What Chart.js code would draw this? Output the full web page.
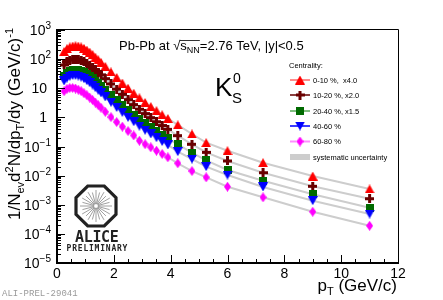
<!DOCTYPE html>
<html><head><meta charset="utf-8">
<script src="https://cdn.jsdelivr.net/npm/chart.js@4/dist/chart.umd.min.js"></script>
<style>html,body{margin:0;padding:0;background:#fff}#wrap{width:443px;height:300px;position:relative}</style>
</head><body><div id="wrap"><canvas id="c" width="443" height="300"></canvas></div>
<script>
const pT = [0.25,0.35,0.45,0.55,0.65,0.75,0.85,0.95,1.05,1.15,1.25,1.35,1.45,1.55,1.7,1.9,2.1,2.3,2.5,2.7,2.9,3.1,3.3,3.5,3.7,3.9,4.25,4.75,5.25,6,7.25,9,11];
const c0010x4 = [182,229,263,282,288,282,263,234,204,174,145,117,95.5,77.6,56.2,36.3,23.4,15.1,10.0,6.76,4.68,3.24,2.34,1.70,1.23,0.912,0.550,0.269,0.135,0.0718,0.0278,0.0097,0.00348];
const c1020x2 = [63.1,81.3,93.3,100,100,97.7,91.2,81.3,70.8,60.3,51.3,42.7,34.7,28.8,21.4,14.1,9.33,6.17,4.07,2.75,1.91,1.35,0.977,0.708,0.525,0.389,0.236,0.119,0.0631,0.0318,0.0126,0.0043,0.00161];
const c2040x15 = [26.3,33.9,39.8,42.7,43.7,42.7,39.8,35.5,30.9,26.3,21.9,18.2,14.8,12.0,8.91,5.89,3.89,2.63,1.78,1.23,0.871,0.631,0.457,0.339,0.251,0.191,0.119,0.0614,0.0335,0.0156,0.0067,0.00228,0.00079];
const c4060 = [17.8,22.4,25.7,27.5,27.5,26.3,24.0,21.4,18.2,15.5,12.9,10.5,8.51,6.92,5.01,3.31,2.19,1.48,1.00,0.708,0.501,0.363,0.269,0.200,0.148,0.113,0.0664,0.0372,0.0203,0.0105,0.00407,0.00138,0.00048];
const c6080 = [7.94,9.55,10.2,10.2,9.77,8.91,7.94,6.76,5.75,4.79,3.98,3.24,2.63,2.14,1.55,1.02,0.692,0.479,0.339,0.240,0.158,0.120,0.094,0.0718,0.0553,0.0427,0.0265,0.0144,0.00875,0.00417,0.0018,0.000575,0.00019];
const seriesLabels = ['0-10 %,  x4.0','10-20 %, x2.0','20-40 %, x1.5','40-60 %','60-80 %'];
const xTickValues = [0,2,4,6,8,10,12];
const yTickExponents = [-5,-4,-3,-2,-1,0,1,2,3];

function mk(w,h,fn){const c=document.createElement('canvas');c.width=w;c.height=h;const g=c.getContext('2d');fn(g,w,h);return c;}
const mRed = mk(10,9,(g,w,h)=>{g.fillStyle='#ff0000';g.beginPath();g.moveTo(w/2,0);g.lineTo(w,h);g.lineTo(0,h);g.closePath();g.fill();});
const mBrown = mk(9,9,(g)=>{g.fillStyle='#6a0000';g.fillRect(3,0,3,9);g.fillRect(0,3,9,3);});
const mGreen = mk(8,8,(g)=>{g.fillStyle='#006a00';g.fillRect(0,0,8,8);});
const mBlue = mk(10,9,(g,w,h)=>{g.fillStyle='#0000ff';g.beginPath();g.moveTo(0,0);g.lineTo(w,0);g.lineTo(w/2,h);g.closePath();g.fill();});
const mMag = mk(7,10,(g,w,h)=>{g.fillStyle='#ff00ff';g.beginPath();g.moveTo(w/2,0);g.lineTo(w,h/2);g.lineTo(w/2,h);g.lineTo(0,h/2);g.closePath();g.fill();});

const series = [
  {vals:c0010x4, marker:mRed, line:'#ff8c8c'},
  {vals:c1020x2, marker:mBrown, line:'#8a4040'},
  {vals:c2040x15, marker:mGreen, line:'#80bf80'},
  {vals:c4060, marker:mBlue, line:'#3c3cff'},
  {vals:c6080, marker:mMag, line:'#ff8cff'}
];
const toPts = v => pT.map((x,i)=>({x:x,y:v[i]}));
const datasets = [];
series.forEach((s,i)=>{
  datasets.push({label:'sys'+i, data:toPts(s.vals), showLine:true, borderColor:'#cdcdcd', borderWidth:2, pointRadius:0, order:20, tension:0});
});
series.forEach((s,i)=>{
  datasets.push({label:seriesLabels[i], data:toPts(s.vals), showLine:false, pointStyle:s.marker, pointRadius:5, order:10-i});
});

function rich(ctx, segs, x, y, align){
  let w=0; for(const s of segs){ctx.font=s.f; w+=ctx.measureText(s.t).width;}
  let cx = align==='right'? x-w : (align==='center'? x-w/2 : x);
  const pos=[];
  for(const s of segs){ctx.font=s.f; ctx.fillText(s.t, cx, y+(s.dy||0)); const ww=ctx.measureText(s.t).width; pos.push([cx,ww]); cx+=ww;}
  return pos;
}
const F = "'Liberation Sans', Arial, sans-serif";

const deco = {
  id:'deco',
  afterDraw(chart){
    const ctx=chart.ctx, xs=chart.scales.x, ys=chart.scales.y, a=chart.chartArea;
    ctx.save();
    ctx.fillStyle='#000'; ctx.strokeStyle='#000';
    // frame
    ctx.lineWidth=1;
    ctx.beginPath(); ctx.moveTo(a.left, a.top-0.5); ctx.lineTo(a.right+0.5, a.top-0.5); ctx.lineTo(a.right+0.5, a.bottom); ctx.stroke();
    ctx.lineWidth=2;
    ctx.beginPath(); ctx.moveTo(a.left, a.top-1); ctx.lineTo(a.left, a.bottom); ctx.lineTo(a.right+1, a.bottom); ctx.stroke();
    // y ticks
    ctx.lineWidth=1;
    ctx.beginPath();
    for(let e=-5;e<=3;e++){
      const yp=Math.round(ys.getPixelForValue(Math.pow(10,e)))+0.5;
      ctx.moveTo(a.left, yp); ctx.lineTo(a.left+8, yp);
      if(e<3){ for(let k=2;k<=9;k++){const ym=Math.round(ys.getPixelForValue(k*Math.pow(10,e)))+0.5; ctx.moveTo(a.left,ym); ctx.lineTo(a.left+4,ym);} }
    }
    // x ticks
    for(let v=0; v<=12.001; v+=0.5){
      const xp=Math.round(xs.getPixelForValue(v))+0.5;
      const L = (Math.abs(v/2-Math.round(v/2))<1e-6)?8:4;
      ctx.moveTo(xp, a.bottom); ctx.lineTo(xp, a.bottom-L);
    }
    ctx.stroke();
    // y labels
    ctx.textBaseline='alphabetic'; ctx.textAlign='left';
    yTickExponents.forEach(e=>{
      const yp=ys.getPixelForValue(Math.pow(10,e));
      if(e===0) rich(ctx,[{t:'1',f:'14px '+F}],47,yp+5,'right');
      else if(e===1) rich(ctx,[{t:'10',f:'14px '+F}],47,yp+5,'right');
      else rich(ctx,[{t:'10',f:'14px '+F},{t:String(e).replace('-','\u2212'),f:'10px '+F,dy:-6}],51,yp+5,'right');
    });
    // x labels
    xTickValues.forEach(v=>{ rich(ctx,[{t:String(v),f:'14px '+F}], xs.getPixelForValue(v), a.bottom+15,'center'); });
    // x title
    rich(ctx,[{t:'p',f:'17px '+F},{t:'T',f:'11px '+F,dy:4},{t:' (GeV/c)',f:'17px '+F}],397,291,'right');
    // y title
    ctx.save(); ctx.translate(20,28); ctx.rotate(-Math.PI/2);
    rich(ctx,[{t:'1/N',f:'17px '+F},{t:'ev',f:'11px '+F,dy:4},{t:'d',f:'17px '+F},{t:'2',f:'11px '+F,dy:-7},{t:'N/dp',f:'17px '+F},{t:'T',f:'11px '+F,dy:4},{t:'/dy (GeV/c)',f:'17px '+F},{t:'-1',f:'11px '+F,dy:-7}],0,0,'right');
    ctx.restore();
    // header
    const p = rich(ctx,[{t:'Pb-Pb at ',f:'13px '+F},{t:'\u221A',f:'13px '+F},{t:'s',f:'13px '+F},{t:'NN',f:'9px '+F,dy:3},{t:'=2.76 TeV, |y|<0.5',f:'13px '+F}],119,50,'left');
    ctx.lineWidth=0.8; ctx.beginPath(); ctx.moveTo(p[1][0]+p[1][1]-0.5,40.5); ctx.lineTo(p[3][0]+p[3][1],40.5); ctx.stroke();
    // K0S
    rich(ctx,[{t:'K',f:'26px '+F}],215,96,'left');
    rich(ctx,[{t:'0',f:'14px '+F}],233,83,'left');
    rich(ctx,[{t:'S',f:'15px '+F}],232,103,'left');
    // legend
    ctx.font='7.5px '+F;
    ctx.fillText('Centrality:',289,68);
    const rows=[80,95,111,126,141.5];
    series.forEach((s,i)=>{
      const y=rows[i];
      ctx.strokeStyle=s.line; ctx.lineWidth=2; ctx.beginPath(); ctx.moveTo(290,y); ctx.lineTo(310,y); ctx.stroke();
      ctx.drawImage(s.marker, 300-s.marker.width/2, y-s.marker.height/2);
      ctx.fillStyle='#000'; ctx.font='7.5px '+F; ctx.fillText(seriesLabels[i],313,y+2.7);
    });
    ctx.fillStyle='#cdcdcd'; ctx.fillRect(290,154,20,6);
    ctx.fillStyle='#000'; ctx.fillText('systematic uncertainty',313,159.7);
    // ALICE logo
    const cx=96, cy=206, R=20;
    ctx.strokeStyle='#888'; ctx.lineWidth=0.8; ctx.beginPath();
    for(let k=0;k<24;k++){const an=k*Math.PI/12; const r2=(k%2)?14:16; ctx.moveTo(cx+Math.cos(an)*2,cy+Math.sin(an)*2); ctx.lineTo(cx+Math.cos(an)*r2, cy+Math.sin(an)*r2);} ctx.stroke();
    ctx.strokeStyle='#222'; ctx.lineWidth=3.2; ctx.beginPath();
    for(let k=0;k<8;k++){const an=Math.PI/8+k*Math.PI/4; const rr=R/Math.cos(Math.PI/8); const X=cx+Math.cos(an)*rr, Y=cy+Math.sin(an)*rr; if(k) ctx.lineTo(X,Y); else ctx.moveTo(X,Y);} ctx.closePath(); ctx.stroke();
    ctx.fillStyle='#222';
    ctx.font="bold 15px 'DejaVu Sans Mono', monospace";
    'ALICE'.split('').forEach((ch,i)=>{ ctx.textAlign='center'; ctx.fillText(ch, 79.5+i*8.7, 242); });
    ctx.font="bold 8px 'DejaVu Sans Mono', monospace";
    'PRELIMINARY'.split('').forEach((ch,i)=>{ ctx.fillText(ch, 69+i*5.6, 251); });
    ctx.textAlign='left';
    ctx.fillStyle='#9a9a9a'; ctx.font="9px 'Liberation Mono', monospace";
    ctx.fillText('ALI-PREL-29041',2,296);
    ctx.restore();
  }
};

new Chart(document.getElementById('c'),{
  type:'scatter',
  data:{datasets:datasets},
  options:{
    responsive:false, animation:false, devicePixelRatio:1,
    layout:{padding:{left:57,right:45,top:30,bottom:37}},
    plugins:{legend:{display:false},tooltip:{enabled:false}},
    scales:{
      x:{type:'linear',min:0,max:12,display:false},
      y:{type:'logarithmic',min:1e-5,max:1e3,display:false}
    }
  },
  plugins:[deco]
});
</script></body></html>
